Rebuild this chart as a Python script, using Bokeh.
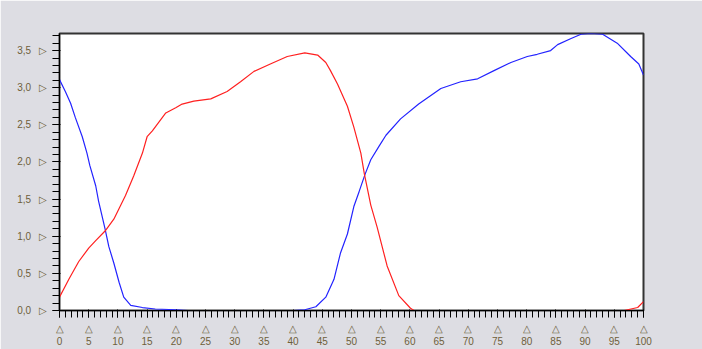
from bokeh.plotting import figure
from bokeh.models import Range1d, SingleIntervalTicker, LinearAxis, Label
from bokeh.embed import file_html
from bokeh.resources import INLINE

# Curve samples, % DSD against N/cm²
x_blue = [0, 1.0, 1.9, 2.7, 3.9, 4.7, 5.2, 6.2, 6.7, 7.8, 8.45, 9.3, 10.2, 11.0,
          12.2, 14.2, 16.4, 19.9, 22, 40, 42, 43.9, 45.6, 47.0, 48.1, 49.3,
          50.4, 51.3, 52.3, 53.3, 54.7, 55.9, 58.4, 61.5, 65.3, 68.7, 71.6,
          74.4, 77.3, 80.1, 81.8, 84.1, 85.3, 87.5, 89.3, 91.0, 93.0, 95.5,
          97.8, 99.2, 100]
y_blue = [3.11, 2.95, 2.79, 2.60, 2.34, 2.12, 1.95, 1.68, 1.47, 1.10, 0.86, 0.64,
          0.38, 0.18, 0.07, 0.04, 0.02, 0.01, 0.0, 0.0, 0.01, 0.05, 0.18, 0.42,
          0.77, 1.03, 1.40, 1.60, 1.83, 2.03, 2.21, 2.36, 2.58, 2.78, 2.99,
          3.08, 3.12, 3.23, 3.34, 3.42, 3.45, 3.50, 3.58, 3.66, 3.72, 3.73,
          3.72, 3.60, 3.42, 3.32, 3.17]

x_red = [0, 1.6, 3.3, 5.0, 6.2, 7.8, 9.3, 11.3, 12.7, 14.2, 15.0, 15.9, 18.2,
         19.9, 21.0, 23.0, 25.9, 28.7, 31.0, 33.3, 36.1, 39.0, 42.0, 44.2, 45.6,
         46.4, 47.6, 49.3, 50.4, 51.6, 52.2, 53.3, 54.4, 56.1, 58.1, 60.1, 60.7,
         96.7, 99.0, 100]
y_red = [0.18, 0.42, 0.66, 0.84, 0.94, 1.07, 1.23, 1.55, 1.81, 2.12, 2.34, 2.42,
         2.66, 2.73, 2.78, 2.82, 2.85, 2.95, 3.08, 3.22, 3.32, 3.42, 3.47, 3.44,
         3.34, 3.23, 3.05, 2.75, 2.47, 2.12, 1.84, 1.42, 1.12, 0.60, 0.20, 0.03,
         0.0, 0.0, 0.04, 0.12]

x_ticks = [0, 5, 10, 15, 20, 25, 30, 35, 40, 45, 50, 55, 60, 65, 70, 75, 80,
           85, 90, 95, 100]
x_tick_labels = ["0", "5", "10", "15", "20", "25", "30", "35", "40", "45", "50",
                 "55", "60", "65", "70", "75", "80", "85", "90", "95", "100"]
y_ticks = [0.0, 0.5, 1.0, 1.5, 2.0, 2.5, 3.0, 3.5]
y_tick_labels = ["0,0", "0,5", "1,0", "1,5", "2,0", "2,5", "3,0", "3,5"]

LABEL_COLOR = "#6e5f3a"
PANEL = "#dddde3"

p = figure(width=702, height=349,
           x_range=Range1d(0, 100), y_range=Range1d(0, 3.73),
           x_axis_type=None, y_axis_type=None,
           output_backend="svg", toolbar_location=None,
           min_border_left=59, min_border_right=59,
           min_border_top=33, min_border_bottom=30)
p.background_fill_color = "white"
p.border_fill_color = PANEL
p.outline_line_color = "#333333"
p.outline_line_width = 2
p.grid.visible = False

# ruler-style axes: ticks outside the frame, an outlined triangle at each major
ax_y = LinearAxis(ticker=SingleIntervalTicker(interval=0.5, num_minor_ticks=5))
ax_y.major_tick_in = 1
ax_y.major_tick_out = 7
ax_y.minor_tick_out = 7
ax_y.major_label_text_font_size = "10px"
ax_y.major_label_text_color = LABEL_COLOR
ax_y.major_label_overrides = {t: s + "\u00a0\u00a0\u00a0\u25b7"
                              for t, s in zip(y_ticks, y_tick_labels)}
p.add_layout(ax_y, "left")

ax_x = LinearAxis(ticker=SingleIntervalTicker(interval=5, num_minor_ticks=5))
ax_x.major_tick_in = 1
ax_x.major_tick_out = 7
ax_x.minor_tick_out = 7
ax_x.major_label_text_font_size = "10px"
ax_x.major_label_text_color = LABEL_COLOR
ax_x.major_label_overrides = {t: "\u25b3\n" + s for t, s in zip(x_ticks, x_tick_labels)}
p.add_layout(ax_x, "below")

p.line(x_blue, y_blue, line_color="#2323ff", line_width=1.2)
p.line(x_red, y_red, line_color="#ff2020", line_width=1.2)

p.add_layout(Label(x=-8.4, y=3.83, text="[N/cm\u00b2]",
                   text_font_size="10px", text_color=LABEL_COLOR))
p.add_layout(Label(x=103.3, y=-0.45, text="[%DSD]",
                   text_font_size="10px", text_color=LABEL_COLOR))

open("out.html", "w").write(file_html(p, INLINE))
